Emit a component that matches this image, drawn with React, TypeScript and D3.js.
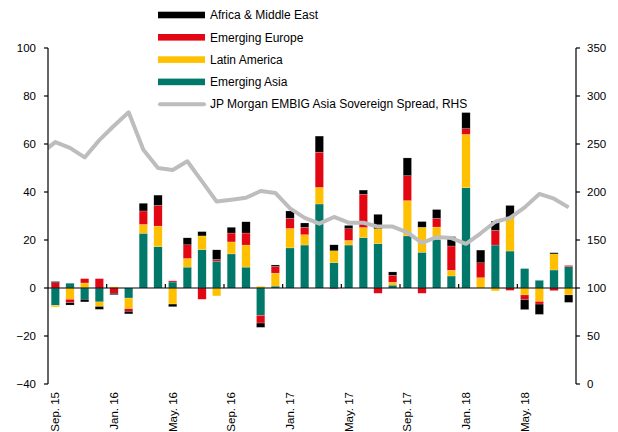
import React from "react";
import * as d3 from "d3";

const months = [
  "Sep. 15","Oct. 15","Nov. 15","Dec. 15","Jan. 16","Feb. 16","Mar. 16","Apr. 16","May. 16","Jun. 16","Jul. 16","Aug. 16",
  "Sep. 16","Oct. 16","Nov. 16","Dec. 16","Jan. 17","Feb. 17","Mar. 17","Apr. 17","May. 17","Jun. 17","Jul. 17","Aug. 17",
  "Sep. 17","Oct. 17","Nov. 17","Dec. 17","Jan. 18","Feb. 18","Mar. 18","Apr. 18","May. 18","Jun. 18","Jul. 18","Aug. 18",
];

const emergingAsia = [
  -7.2, 2.0, -4.7, -5.8, 0, -4.2, 22.8, 17.2, 2.5, 8.7, 16.0, 11.2,
  14.2, 8.7, -11.4, 0.8, 16.7, 17.9, 35.0, 10.6, 17.9, 21.0, 18.5, 1.2,
  21.7, 14.9, 20.3, 5.0, 41.8, 0, 17.9, 15.4, 8.1, 3.2, 7.5, 8.9,
];
const latinAmerica = [
  -0.7, -4.7, 2.1, -1.9, 0.5, -4.4, 3.7, 8.6, -6.7, 3.6, 5.7, -3.3,
  5.0, 9.2, 0.7, 5.4, 8.1, 4.3, 6.9, 4.9, 1.9, 4.2, 6.2, 1.2,
  14.7, 10.4, 5.1, 2.4, 22.2, 4.3, -1.2, 13.9, -2.9, -5.6, 6.7, -2.9,
];
const emergingEurope = [
  2.2, -1.4, 1.8, 3.9, -2.2, -1.1, 5.6, 8.6, 0.5, 5.7, -4.7, 0.7,
  3.7, 5.0, -3.2, 2.8, 4.2, 3.1, 14.7, -0.3, 4.9, 13.9, -2.2, 2.9,
  10.4, -2.2, 3.6, 10.1, 2.4, 6.2, 6.1, -1.0, -1.9, -1.1, -1.1, 0.5,
];
const africaMiddleEast = [
  0.5, -1.0, -1.1, -1.2, -0.6, -1.1, 3.2, 4.3, -1.1, 2.9, 1.8, 4.0,
  2.4, 4.7, -1.8, 0.6, 3.1, 1.8, 6.7, 2.5, 1.4, 1.7, 6.0, 1.4,
  7.4, 2.4, 3.7, 3.9, 6.7, 5.3, 3.9, 5.1, -4.2, -4.3, 0.5, -3.1,
];

// Spread series starts one month earlier (Aug. 15), partly clipped by the plot area
const spreadMonths = ["Aug. 15", ...months];
const spread = [
  240, 252, 246, 236, 254, 269, 283, 244, 225, 223, 232, 211, 190,
  192, 194, 201, 199, 183, 173, 167, 174, 168, 168, 164, 164,
  158, 147, 153, 152, 146, 157, 169, 173, 184, 198, 193, 184,
];

const leftTicks = [-40, -20, 0, 20, 40, 60, 80, 100];
const rightTicks = [0, 50, 100, 150, 200, 250, 300, 350];
const xLabelEvery = 4;

const seriesKeys = ["asia", "latam", "europe", "africa"];
const seriesNames: Record<string, string> = {
  africa: "Africa & Middle East",
  europe: "Emerging Europe",
  latam: "Latin America",
  asia: "Emerging Asia",
};
const colors: Record<string, string> = {
  asia: "#00786A",
  latam: "#FFC000",
  europe: "#E30613",
  africa: "#000000",
};
const lineColor = "#BDBDBD";

export default function App() {
  const W = 618, H = 432;
  const x0 = 48, x1 = 576, yTop = 48, yBot = 384;
  const font = "'Liberation Sans', Arial, sans-serif";

  const x = d3.scaleBand<string>().domain(months).range([x0, x1]).paddingInner(0.43).paddingOuter(0.215);
  const step = x.step();
  const yL = d3.scaleLinear().domain([-40, 100]).range([yBot, yTop]);
  const yR = d3.scaleLinear().domain([0, 350]).range([yBot, yTop]);

  const rows = months.map((m, i) => ({
    month: m,
    asia: emergingAsia[i],
    latam: latinAmerica[i],
    europe: emergingEurope[i],
    africa: africaMiddleEast[i],
  }));
  const stack = d3.stack<any>().keys(seriesKeys).offset(d3.stackOffsetDiverging);
  const stacked = stack(rows);

  const cx = (i: number) => x0 + step * (i + 0.5);
  const line = d3
    .line<number>()
    .x((_, i) => cx(i - 1))
    .y((d) => yR(d));

  const legendItems = ["africa", "europe", "latam", "asia"];
  const legendY0 = 15, legendDy = 22.3;

  return (
    <svg width={W} height={H} style={{ position: "absolute", left: 0, top: 0, background: "#fff" }} fontFamily={font}>
      <defs>
        <clipPath id="plot">
          <rect x={x0} y={yTop - 10} width={x1 - x0} height={yBot - yTop + 10} />
        </clipPath>
      </defs>
      {/* bars */}
      {stacked.map((s) => (
        <g key={s.key} fill={colors[s.key]}>
          {s.map((d, i) => {
            const a = yL(d[0]), b = yL(d[1]);
            const h = Math.abs(a - b);
            if (h < 0.01) return null;
            return (
              <rect key={i} x={x(months[i])} width={x.bandwidth()} y={Math.min(a, b)} height={h}
                stroke="#ffffff" strokeOpacity={0.5} strokeWidth={0.4} />
            );
          })}
        </g>
      ))}
      {/* zero line with category ticks */}
      <line x1={x0} x2={x1} y1={yL(0)} y2={yL(0)} stroke="#000" strokeWidth={1.2} />
      {months.map((m, i) =>
        i > 0 && i % xLabelEvery === 0 ? (
          <line key={m} x1={x0 + step * i} x2={x0 + step * i} y1={yL(0)} y2={yL(0) - 4} stroke="#000" strokeWidth={1.2} />
        ) : null
      )}
      {/* spread line */}
      <path d={line(spread) || ""} fill="none" stroke={lineColor} strokeWidth={4} strokeLinejoin="round" clipPath="url(#plot)" />
      {/* left axis */}
      <line x1={x0} x2={x0} y1={yTop} y2={yBot} stroke="#000" strokeWidth={1.2} />
      {leftTicks.map((t) => (
        <g key={t}>
          <line x1={x0 - 4} x2={x0} y1={yL(t)} y2={yL(t)} stroke="#000" strokeWidth={1.2} />
          <text x={x0 - 12} y={yL(t)} dy="0.35em" textAnchor="end" fontSize={11.5} fill="#000">
            {t < 0 ? "\u2212" + Math.abs(t) : t}
          </text>
        </g>
      ))}
      {/* right axis */}
      <line x1={x1} x2={x1} y1={yTop} y2={yBot} stroke="#000" strokeWidth={1.2} />
      {rightTicks.map((t) => (
        <g key={t}>
          <line x1={x1} x2={x1 + 4} y1={yR(t)} y2={yR(t)} stroke="#000" strokeWidth={1.2} />
          <text x={x1 + 11} y={yR(t)} dy="0.35em" textAnchor="start" fontSize={11.5} fill="#000">
            {t}
          </text>
        </g>
      ))}
      {/* x labels */}
      {months.map((m, i) =>
        i % xLabelEvery === 0 ? (
          <text key={m} transform={`translate(${cx(i)},${yBot + 8}) rotate(-90)`} dy="0.35em" textAnchor="end" fontSize={11.5} fill="#000">
            {m}
          </text>
        ) : null
      )}
      {/* legend */}
      {legendItems.map((k, j) => (
        <g key={k}>
          <rect x={158} y={legendY0 + j * legendDy - 3.3} width={47} height={6.6} fill={colors[k]} />
          <text x={210} y={legendY0 + j * legendDy} dy="0.35em" fontSize={12} fill="#000">{seriesNames[k]}</text>
        </g>
      ))}
      <line x1={160} x2={204} y1={legendY0 + 4 * legendDy} y2={legendY0 + 4 * legendDy} stroke={lineColor} strokeWidth={4} strokeLinecap="round" />
      <text x={210} y={legendY0 + 4 * legendDy} dy="0.35em" fontSize={12} fill="#000">
        JP Morgan EMBIG Asia Sovereign Spread, RHS
      </text>
    </svg>
  );
}
